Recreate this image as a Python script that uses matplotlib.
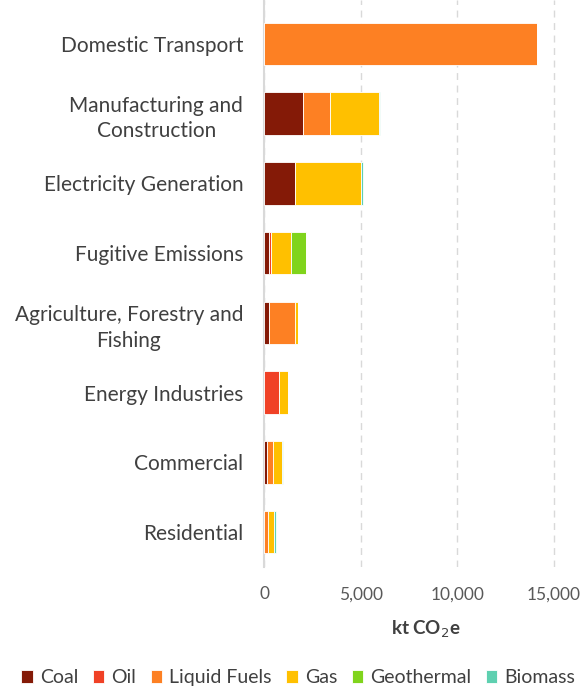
import numpy as np
import matplotlib.pyplot as plt

plt.rcParams['font.family'] = ['Lato', 'DejaVu Sans']

sectors = ['Domestic Transport', 'Manufacturing and\nConstruction', 'Electricity Generation',
           'Fugitive Emissions', 'Agriculture, Forestry and\nFishing', 'Energy Industries',
           'Commercial', 'Residential']
fuels = ['Coal', 'Oil', 'Liquid Fuels', 'Gas', 'Geothermal', 'Biomass']
colors = ['#841A07', '#F04126', '#FD8023', '#FFC000', '#80D41C', '#5ED0B0']

# kt CO2e per sector, one list per fuel
coal = [0, 2040, 1610, 280, 280, 0, 140, 0]
oil = [0, 0, 0, 70, 0, 800, 0, 0]
liquid = [14120, 1350, 0, 0, 1330, 0, 330, 210]
gas = [0, 2530, 3430, 1050, 140, 430, 450, 310]
geothermal = [0, 0, 0, 780, 0, 0, 0, 0]
biomass = [0, 70, 60, 0, 0, 0, 70, 90]
series = [coal, oil, liquid, gas, geothermal, biomass]

fig = plt.figure(figsize=(5.87, 6.9), dpi=100)
ax = fig.add_axes([264/587, 1-567/690, 1-264/587, 567/690])

y = np.arange(len(sectors))
left = np.zeros(len(sectors))
for name, vals, c in zip(fuels, series, colors):
    ax.barh(y, vals, left=left, height=0.61, color=c, label=name,
            edgecolor='white', linewidth=0.6, zorder=3)
    left += np.array(vals)

ax.set_ylim(7.5, -0.63)
ax.set_xlim(0, 16700)
ax.set_yticks(y)
ax.set_yticklabels(sectors, fontsize=15, color='#404040', ha='right',
                   multialignment='center', linespacing=1.35)
ax.tick_params(axis='y', length=0, pad=15)
ax.set_xticks([0, 5000, 10000, 15000])
ax.set_xticklabels(['0', '5,000', '10,000', '15,000'], fontsize=12.5, color='#595959')
ax.tick_params(axis='x', length=0, pad=14)
ax.grid(axis='x', color='#D9D9D9', linestyle=(0, (5, 4)), linewidth=1, zorder=0)
for s in ['top', 'right', 'bottom']:
    ax.spines[s].set_visible(False)
ax.spines['left'].set_color('#D9D9D9')
ax.spines['left'].set_linewidth(1.5)
ax.set_xlabel('kt CO$_2$e', fontsize=13.5, fontweight='bold', color='#404040', labelpad=12)

fig.legend(loc='lower center', bbox_to_anchor=(0.508, -0.02), ncol=6, frameon=False,
           fontsize=14, handlelength=0.6, handleheight=0.6, handletextpad=0.35,
           columnspacing=0.75, labelcolor='#404040')

fig.savefig('out.png', dpi=100)
